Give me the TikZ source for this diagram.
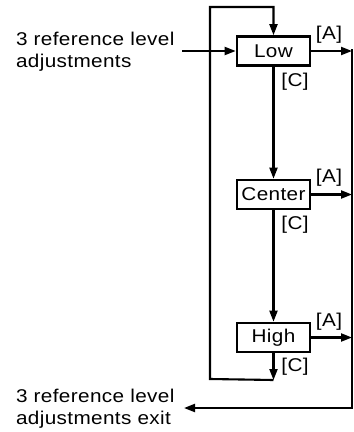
\documentclass[tikz,border=0pt]{standalone}
\usepackage{fontspec}
\setmainfont[FakeStretch=1.12,LetterSpace=2]{Liberation Sans}
\usetikzlibrary{arrows.meta}
\begin{document}
\begin{tikzpicture}[x=1pt,y=-1pt,
  line width=2.1pt,
  arr/.style={-{Triangle[length=11pt,width=8pt]}},
  stage/.style={draw,line width=2.7pt,minimum width=73pt,minimum height=29pt,inner sep=0pt,font=\fontsize{18.5}{22}\selectfont},
  lbl/.style={font=\fontsize{18.5}{22}\selectfont,inner sep=0pt},
  side/.style={font=\fontsize{18.5}{22}\selectfont,align=left,anchor=west,inner sep=0pt}]
\useasboundingbox (0,0) rectangle (354,432);
\node[stage] (low) at (273.5,51) {Low};
\node[stage] (center) at (273.5,194.5) {Center};
\node[stage] (high) at (273.5,337.5) {High};
\node[side] (in) at (15,52) {3 reference level\\adjustments};
\node[side] (out) at (15,409) {3 reference level\\adjustments exit};
\coordinate (inend) at (182,51);
\coordinate (tl) at (210,7);
\coordinate (tr) at (273.5,7);
\coordinate (bl) at (210,379);
\coordinate (br) at (273.5,380);
\coordinate (r1) at (352,51);
\coordinate (r2) at (352,194.5);
\coordinate (r3) at (352,337.5);
\coordinate (rtop) at (352,49);
\coordinate (rbot) at (352,408);
\coordinate (outend) at (184,408);
\draw[arr] (inend) -- (low.west);
\draw[arr] (br) -- (bl) -- (tl) -- (tr) -- (low.north);
\draw[arr] (low.south) -- (center.north);
\draw[arr] (center.south) -- (high.north);
\draw[arr] (high.south) -- (br);
\draw[arr] (low.east) -- (r1);
\draw[arr] (center.east) -- (r2);
\draw[arr] (high.east) -- (r3);
\draw[arr] (rtop) -- (rbot) -- (outend);
\node[lbl] (a1) at (329,35) {[A]};
\node[lbl] (a2) at (329,178) {[A]};
\node[lbl] (a3) at (329,322) {[A]};
\node[lbl] (c1) at (295,82) {[C]};
\node[lbl] (c2) at (295,225) {[C]};
\node[lbl] (c3) at (295,367) {[C]};
\end{tikzpicture}
\end{document}
